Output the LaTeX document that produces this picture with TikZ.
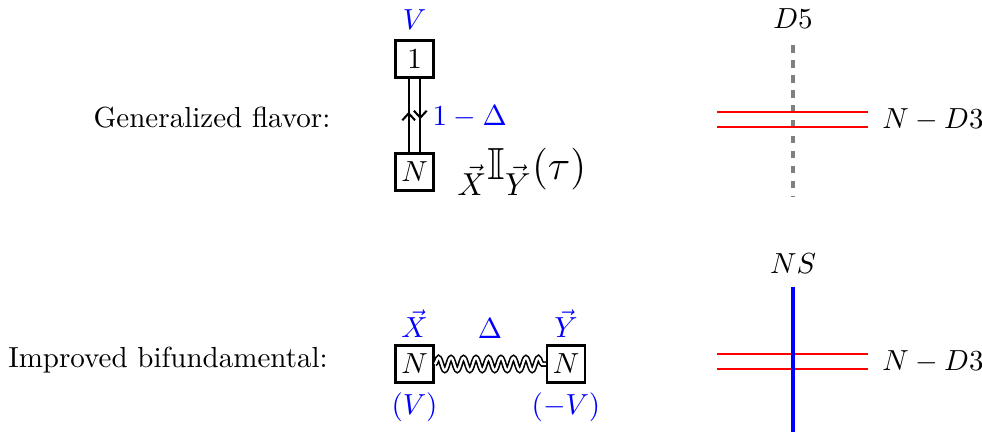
\documentclass[tikz,border=0pt]{standalone}
\usepackage{amssymb}
\usetikzlibrary{positioning, calc, arrows.meta, decorations.pathmorphing, decorations.markings}

\begin{document}
\begin{tikzpicture}[
  x=0.3445pt, y=-0.3445pt,
  gauge/.style = {
    draw,
    thick,
    minimum width=0.46cm,
    minimum height=0.45cm,
    inner sep=1pt
  },
  charge/.style = {
    text=blue,
    inner sep=1pt
  },
  mid arrow/.style = {
    postaction={decorate},
    decoration={markings, mark=at position 0.55 with {\arrow{Straight Barb[length=2.4pt, width=4.4pt, line width=0.7pt]}}}
  },
  wavy/.style = {
    double,
    double distance=0.8pt,
    line width=0.55pt,
    decorate,
    decoration={snake, amplitude=2.2pt, segment length=4.3pt}
  },
  d3/.style = {
    red,
    line width=0.6pt
  },
  d5/.style = {
    gray,
    line width=1.3pt,
    dash pattern=on 2.6pt off 2.6pt
  },
  ns/.style = {
    blue,
    line width=1.4pt
  }
]
\useasboundingbox (0,0) rectangle (982,432);

% row labels
\node (gf) at (212,118) {Generalized flavor:};
\node (ib) at (168,360) {Improved bifundamental:};

% generalized flavor quiver
\node[gauge] (one) at (414.5,59) {$1$};
\node[gauge] (ntop) at (414.5,172) {$N$};
\node[charge, above=2pt of one] (V) {$V$};
\draw[thick, mid arrow] ([xshift=-2pt]ntop.north) -- ([xshift=-2pt]one.south);
\draw[thick, mid arrow] ([xshift=2pt]one.south) -- ([xshift=2pt]ntop.north);
\coordinate (qmid) at ([xshift=2pt]$(one.south)!0.52!(ntop.north)$);
\node[charge, right=3pt of qmid] (wt) {$1-\Delta$};
\node[anchor=west, font=\fontsize{15.5}{18}\selectfont] (idx) at (447,172) {${}_{\vec{X}}\mathbb{I}_{\vec{Y}}(\tau)$};

% generalized flavor branes
\coordinate (d5top) at (793,45);
\coordinate (d5bot) at (793,197);
\coordinate (a1) at (717,112);
\coordinate (a2) at (868,112);
\coordinate (b1) at (717,127);
\coordinate (b2) at (868,127);
\draw[d5] (d5top) -- (d5bot);
\draw[d3] (a1) -- (a2);
\draw[d3] (b1) -- (b2);
\node[above=2pt of d5top] (D5) {$D5$};
\node[anchor=west] (nd3a) at (872,120) {$N-D3$};

% improved bifundamental quiver
\node[gauge] (nl) at (414.5,364) {$N$};
\node[gauge] (nr) at (566,364) {$N$};
\node[charge, above=1pt of nl] (X) {$\vec{X}$};
\node[charge, below=2pt of nl] (pV) {$(V)$};
\node[charge, above=1pt of nr] (Y) {$\vec{Y}$};
\node[charge, below=2pt of nr] (mV) {$(-V)$};
\draw[wavy] (nl.east) -- (nr.west);
\node[charge] (D) at (490,329) {$\Delta$};

% improved bifundamental branes
\coordinate (nstop) at (793,287);
\coordinate (nsbot) at (793,432);
\coordinate (c1) at (717,354);
\coordinate (c2) at (868,354);
\coordinate (e1) at (717,369);
\coordinate (e2) at (868,369);
\draw[d3] (c1) -- (c2);
\draw[d3] (e1) -- (e2);
\draw[ns] (nstop) -- (nsbot);
\node[above=1pt of nstop] (NS) {$NS$};
\node[anchor=west] (nd3b) at (872,362) {$N-D3$};

\end{tikzpicture}
\end{document}
